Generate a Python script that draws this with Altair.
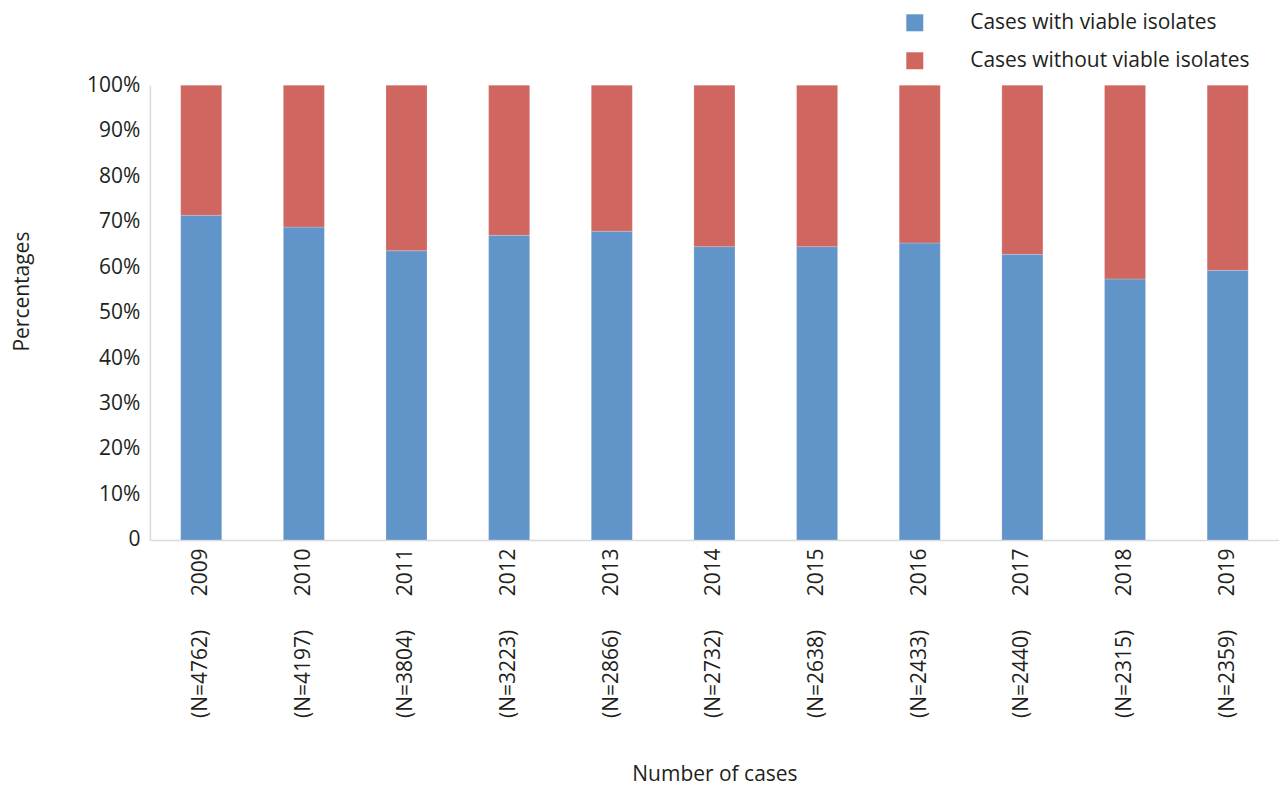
import altair as alt
import pandas as pd

years = ["2009", "2010", "2011", "2012", "2013", "2014", "2015", "2016", "2017", "2018", "2019"]
n_cases = [4762, 4197, 3804, 3223, 2866, 2732, 2638, 2433, 2440, 2315, 2359]
with_viable = [71.4, 68.8, 63.6, 67.0, 67.9, 64.5, 64.5, 65.3, 62.8, 57.4, 59.3]
series = ["Cases with viable isolates", "Cases without viable isolates"]
colors = ["#6194c9", "#cf6660"]

rows = []
for y, n, w in zip(years, n_cases, with_viable):
    rows.append({"year": y, "series": series[0], "value": w, "order": 0})
    rows.append({"year": y, "series": series[1], "value": round(100 - w, 1), "order": 1})
df = pd.DataFrame(rows)
labels_df = pd.DataFrame({"year": years, "n": [f"(N={n})" for n in n_cases]})

FONT = "Open Sans"
FS = 21
TXT = "#231f20"
H = 455

xscale = alt.Scale(paddingInner=0.6, paddingOuter=0.3)

bars = alt.Chart(df).mark_bar(stroke="#ffffff", strokeWidth=0.6, strokeOpacity=0.35).encode(
    x=alt.X("year:N", sort=years, scale=xscale,
            axis=alt.Axis(title="Number of cases", labelAngle=-90, labelFontSize=FS,
                          labelFont=FONT, labelColor=TXT, labelPadding=8,
                          ticks=False, domainColor="#d9d9d9", domainWidth=1.5,
                          titleFont=FONT, titleFontSize=FS, titleFontWeight="normal",
                          titleColor=TXT, titleY=241, titleBaseline="alphabetic")),
    y=alt.Y("value:Q", stack="zero", scale=alt.Scale(domain=[0, 100], nice=False),
            axis=alt.Axis(title="Percentages", values=list(range(0, 101, 10)),
                          labelExpr="datum.value == 0 ? '0' : datum.value + '%'",
                          labelFontSize=FS, labelFont=FONT, labelColor=TXT,
                          labelPadding=10, ticks=False, grid=False,
                          domainColor="#d9d9d9", domainWidth=1.5,
                          titleFont=FONT, titleFontSize=FS, titleFontWeight="normal",
                          titleColor=TXT, titleX=-127, titleY=206,
                          titleAngle=-90, titleBaseline="middle", titleAlign="center")),
    color=alt.Color("series:N", scale=alt.Scale(domain=series, range=colors),
                    legend=alt.Legend(title=None, orient="none", legendX=755, legendY=-73,
                                      symbolType="square", symbolSize=289, symbolStrokeWidth=0,
                                      labelFont=FONT, labelFontSize=FS, labelColor=TXT,
                                      labelOffset=45, rowPadding=16, labelLimit=400)),
    order=alt.Order("order:Q", sort="ascending"),
)

ntext = alt.Chart(labels_df).mark_text(angle=270, align="right", baseline="middle",
                                        font=FONT, fontSize=FS, color=TXT).encode(
    x=alt.X("year:N", sort=years, scale=xscale),
    y=alt.value(H + 90),
    text="n:N",
)

chart = alt.layer(bars, ntext).properties(
    width=1130, height=H,
    autosize=alt.AutoSizeParams(type="none"),
    padding={"left": 142, "top": 77, "right": 0, "bottom": 248},
).configure_view(stroke=None)

chart.save("out.html", embed_options={"renderer": "svg", "actions": False})
